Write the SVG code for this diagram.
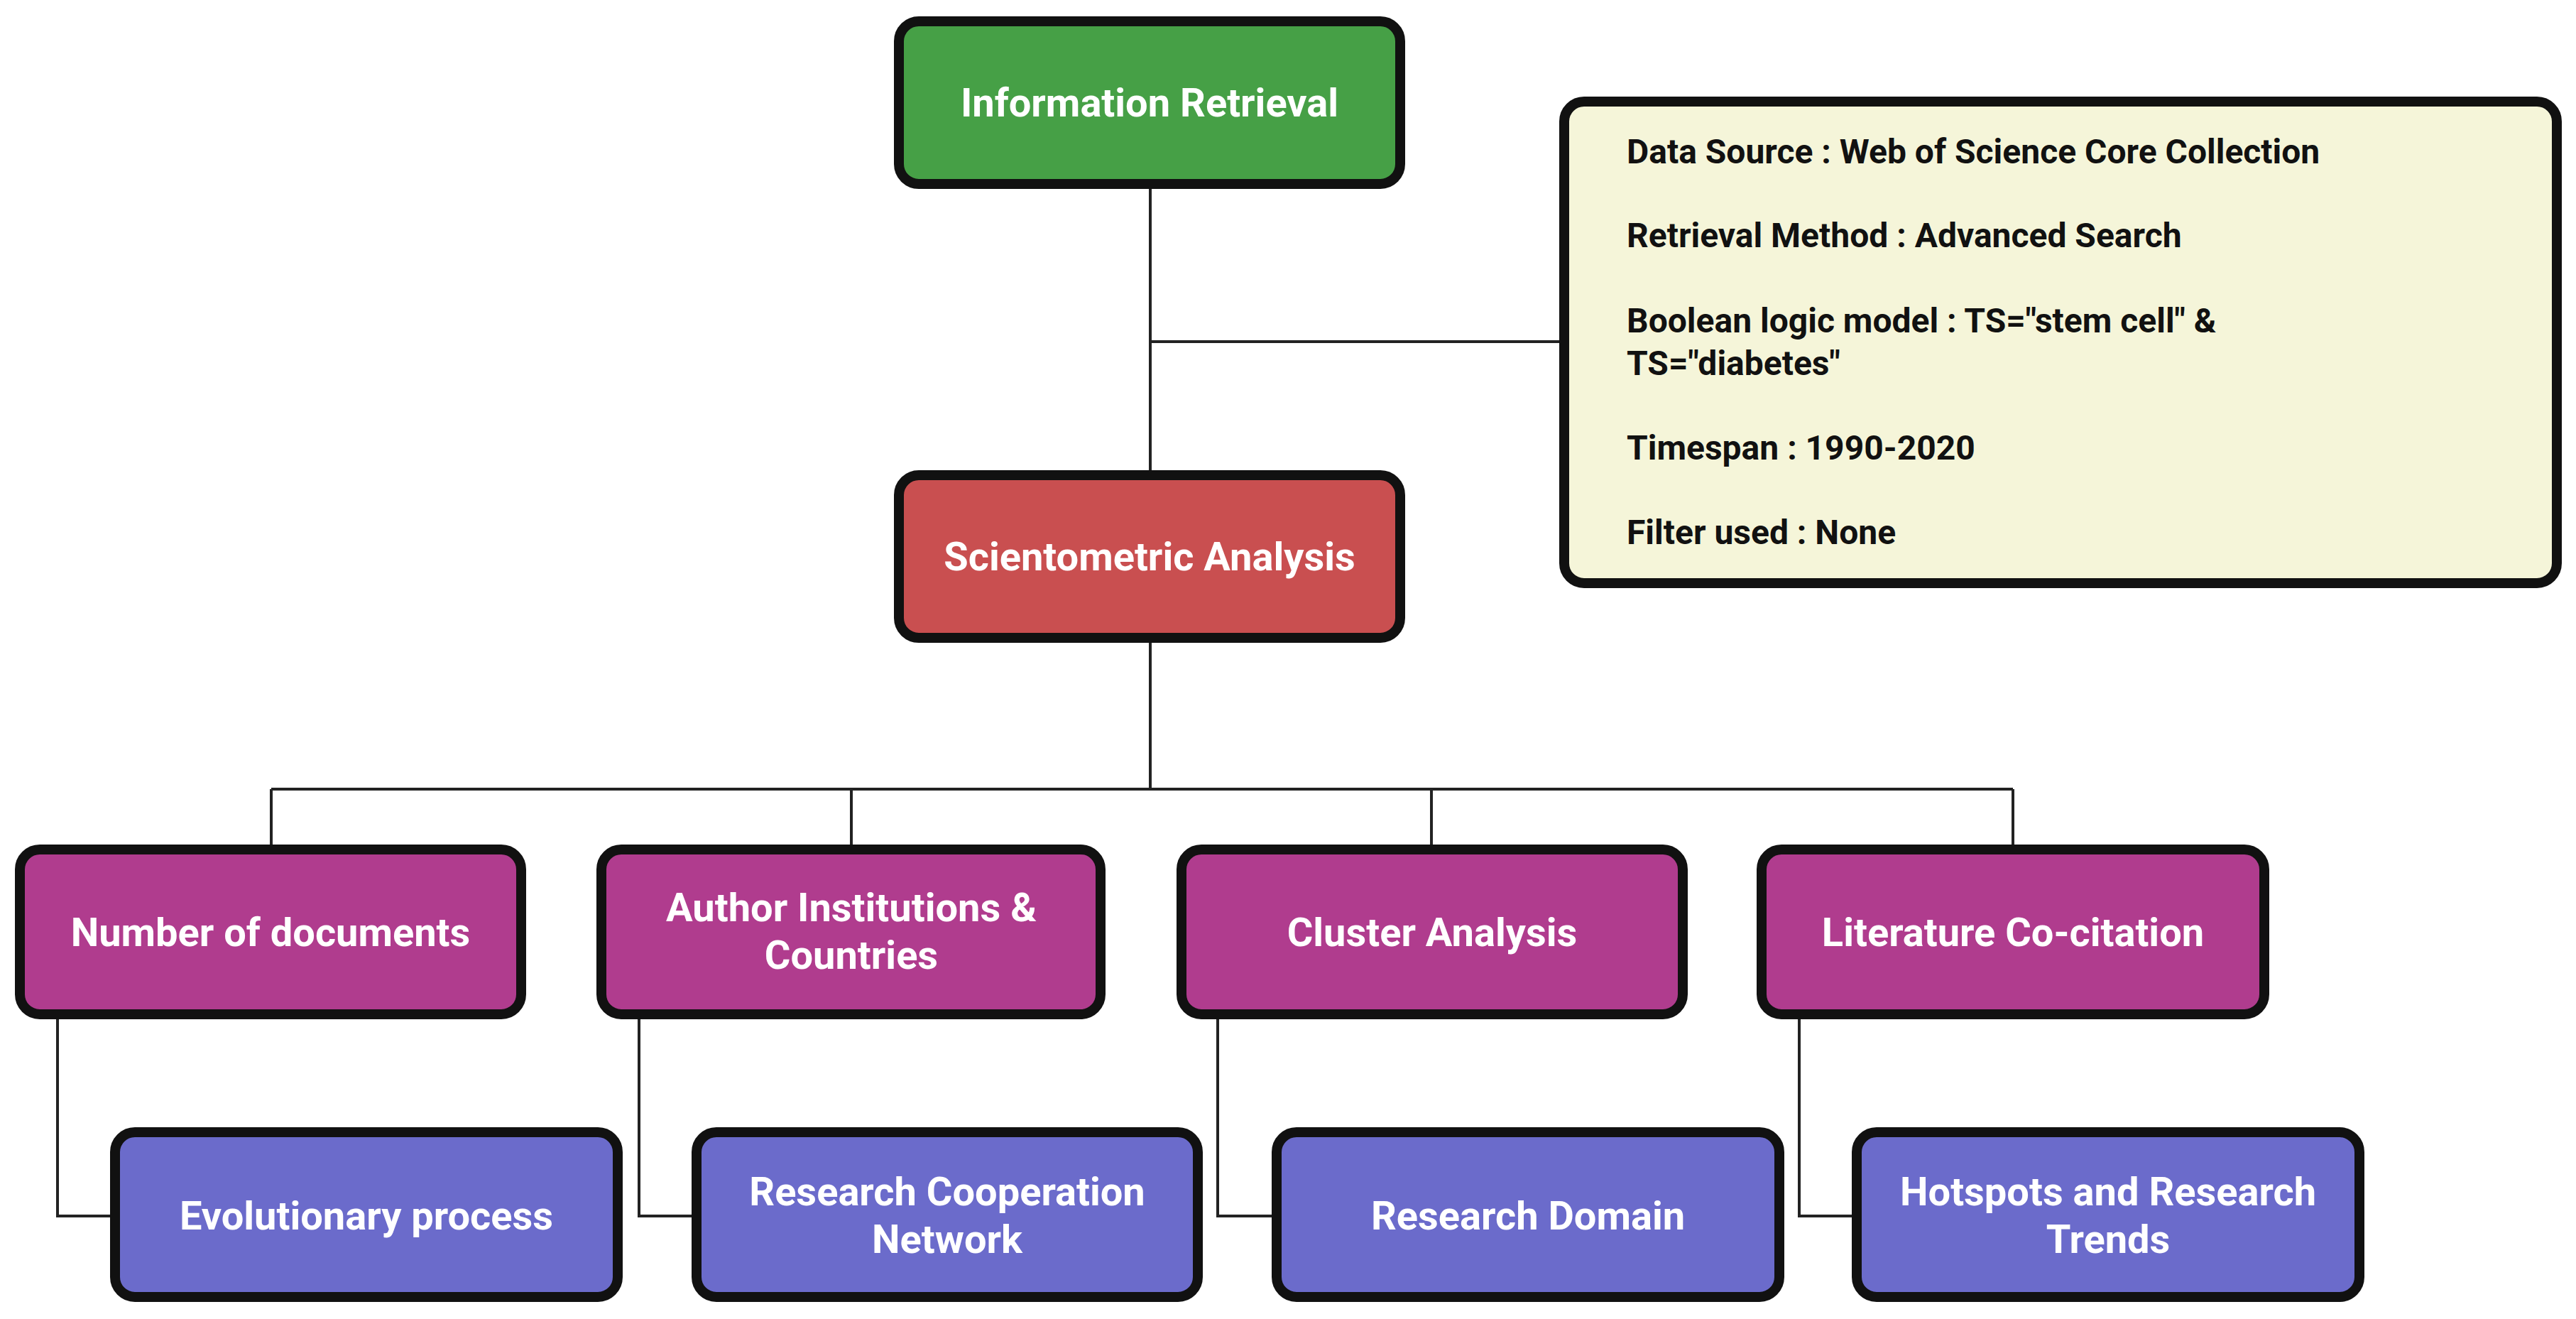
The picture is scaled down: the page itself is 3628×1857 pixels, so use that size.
<svg xmlns="http://www.w3.org/2000/svg" width="3628" height="1857" viewBox="0 0 3628 1857">
<style>
.b{stroke:#111;stroke-width:14}
.t{fill:#fff;font-family:Roboto,"Liberation Sans",sans-serif;font-weight:bold;font-size:56px;text-anchor:middle}
.i{fill:#111;font-family:Roboto,"Liberation Sans",sans-serif;font-weight:bold;font-size:48px}
.c{stroke:#222;stroke-width:4;fill:none}
</style>
<rect width="3628" height="1857" fill="#fff"/>
<g id="connectors">
<path class="c" d="M1620 259V669M1620 481H2203M1620 898V1111M382 1111H2835M382 1111V1196M1199 1111V1196M2016 1111V1196M2835 1111V1196"/>
<path class="c" d="M81 1428V1712H162M900 1428V1712H981M1715 1428V1712H1798M2534 1428V1712H2615"/>
</g>
<g id="info-retrieval"><rect class="b" x="1266" y="30" width="706" height="229" rx="28" fill="#46a046"/><text class="t" x="1619" y="164">Information Retrieval</text></g>
<g id="scientometric"><rect class="b" x="1266" y="669" width="706" height="229" rx="28" fill="#c94f50"/><text class="t" x="1619" y="803">Scientometric Analysis</text></g>
<g id="data-box"><rect class="b" x="2203" y="143" width="1398" height="678" rx="28" fill="#f5f5d9"/>
<text class="i" x="2291" y="230">Data Source : Web of Science Core Collection</text>
<text class="i" x="2291" y="348">Retrieval Method : Advanced Search</text>
<text class="i" x="2291" y="468">Boolean logic model : TS="stem cell" &amp;</text>
<text class="i" x="2291" y="528">TS="diabetes"</text>
<text class="i" x="2291" y="647">Timespan : 1990-2020</text>
<text class="i" x="2291" y="766">Filter used : None</text></g>
<g id="n-docs"><rect class="b" x="28" y="1196" width="706" height="232" rx="28" fill="#b03c8e"/><text class="t" x="381" y="1332">Number of documents</text></g>
<g id="n-author"><rect class="b" x="847" y="1196" width="703" height="232" rx="28" fill="#b03c8e"/><text class="t" x="1199" y="1297">Author Institutions &amp;</text><text class="t" x="1199" y="1364">Countries</text></g>
<g id="n-cluster"><rect class="b" x="1664" y="1196" width="706" height="232" rx="28" fill="#b03c8e"/><text class="t" x="2017" y="1332">Cluster Analysis</text></g>
<g id="n-lit"><rect class="b" x="2481" y="1196" width="708" height="232" rx="28" fill="#b03c8e"/><text class="t" x="2835" y="1332">Literature Co-citation</text></g>
<g id="n-evo"><rect class="b" x="162" y="1594" width="708" height="232" rx="28" fill="#6b6bcb"/><text class="t" x="516" y="1731">Evolutionary process</text></g>
<g id="n-coop"><rect class="b" x="981" y="1594" width="706" height="232" rx="28" fill="#6b6bcb"/><text class="t" x="1334" y="1697">Research Cooperation</text><text class="t" x="1334" y="1764">Network</text></g>
<g id="n-domain"><rect class="b" x="1798" y="1594" width="708" height="232" rx="28" fill="#6b6bcb"/><text class="t" x="2152" y="1731">Research Domain</text></g>
<g id="n-hot"><rect class="b" x="2615" y="1594" width="708" height="232" rx="28" fill="#6b6bcb"/><text class="t" x="2969" y="1697">Hotspots and Research</text><text class="t" x="2969" y="1764">Trends</text></g>
</svg>
